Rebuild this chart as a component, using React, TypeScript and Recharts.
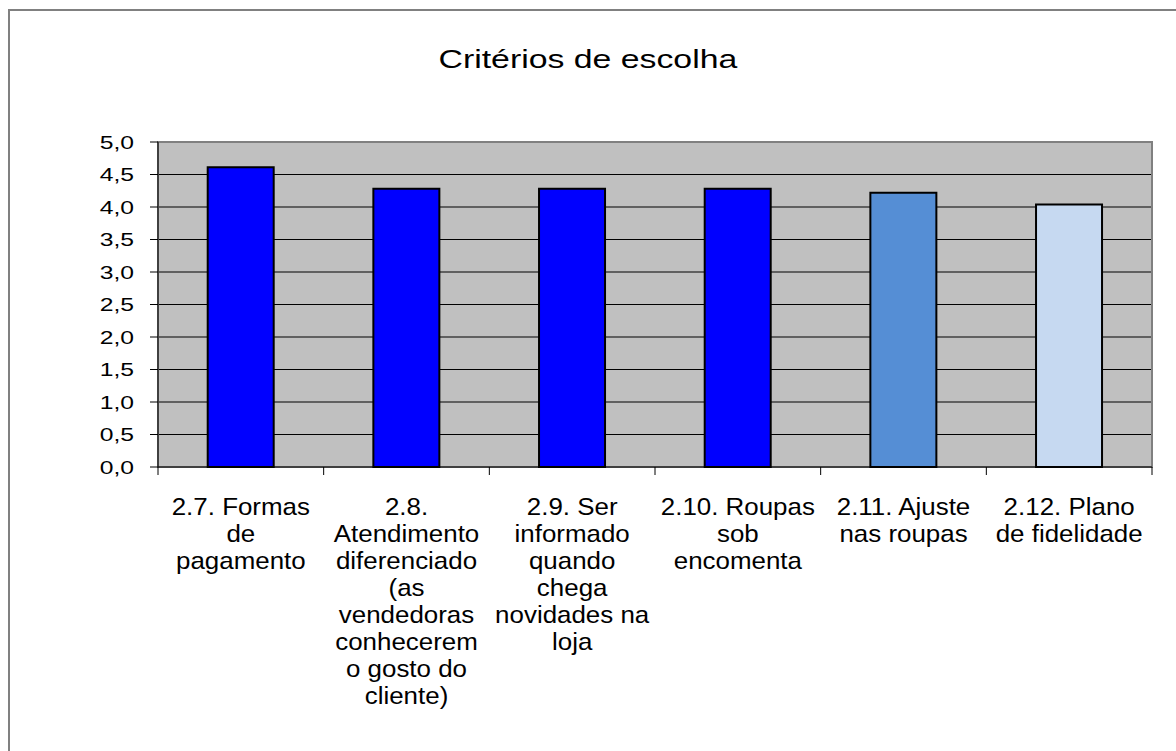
import { BarChart, Bar, XAxis, YAxis, CartesianGrid, Cell, ReferenceArea } from 'recharts';

const categories = [
  '2.7. Formas de pagamento',
  '2.8. Atendimento diferenciado (as vendedoras conhecerem o gosto do cliente)',
  '2.9. Ser informado quando chega novidades na loja',
  '2.10. Roupas sob encomenta',
  '2.11. Ajuste nas roupas',
  '2.12. Plano de fidelidade',
];

const scores = [4.61, 4.28, 4.28, 4.28, 4.22, 4.04];

// how each category label is broken into lines under the axis
const labelLines = [
  ['2.7. Formas', 'de', 'pagamento'],
  ['2.8.', 'Atendimento', 'diferenciado', '(as', 'vendedoras', 'conhecerem', 'o gosto do', 'cliente)'],
  ['2.9. Ser', 'informado', 'quando', 'chega', 'novidades na', 'loja'],
  ['2.10. Roupas', 'sob', 'encomenta'],
  ['2.11. Ajuste', 'nas roupas'],
  ['2.12. Plano', 'de fidelidade'],
];

const yTicks = [0, 0.5, 1, 1.5, 2, 2.5, 3, 3.5, 4, 4.5, 5];

const data = categories.map((name, i) => ({ name, score: scores[i], lines: labelLines[i] }));

const barColors = ['#0000FF', '#0000FF', '#0000FF', '#0000FF', '#558ED5', '#C6D9F1'];

const W = 1176;
const H = 751;
const PLOT_LEFT = 158;
const PLOT_RIGHT = 1152;
const PLOT_TOP = 142;
const PLOT_BOTTOM = 467;
const Y_AXIS_W = 60;
const X_AXIS_H = 280;
const FONT = '"Liberation Sans", Arial, sans-serif';

const halfBand = (PLOT_RIGHT - PLOT_LEFT) / categories.length / 2;

const YTick = (props: any) => {
  const { x, y, payload } = props;
  const label = Number(payload.value).toFixed(1).replace('.', ',');
  return (
    <g transform={`translate(${x},${y})`}>
      <text transform="scale(1.3,1)" textAnchor="end" dy="0.36em" fontSize={19} fontFamily={FONT} fill="#000">
        {label}
      </text>
    </g>
  );
};

const XTick = (props: any) => {
  const { x, y, payload, index } = props;
  const lines: string[] = labelLines[index] ?? [payload.value];
  const last = index === categories.length - 1;
  return (
    <g>
      <line x1={x - halfBand} x2={x - halfBand} y1={y - 8} y2={y} stroke="#000" />
      {last && <line x1={x + halfBand} x2={x + halfBand} y1={y - 8} y2={y} stroke="#000" />}
      <g transform={`translate(${x},${y + 40})`}>
        <text transform="scale(1.08,1)" textAnchor="middle" fontSize={24} fontFamily={FONT} fill="#000">
          {lines.map((ln, i) => (
            <tspan key={i} x={0} dy={i === 0 ? 0 : 27}>
              {ln}
            </tspan>
          ))}
        </text>
      </g>
    </g>
  );
};

export default function App() {
  return (
    <div style={{ position: 'absolute', left: 0, top: 0, width: W, height: H, background: '#fff', overflow: 'hidden' }}>
      <div
        style={{
          position: 'absolute',
          left: 8,
          top: 9,
          width: W - 8,
          height: H - 9,
          borderTop: '2px solid #808080',
          borderLeft: '2px solid #808080',
          boxSizing: 'border-box',
        }}
      />
      <div
        style={{
          position: 'absolute',
          left: 0,
          top: 44,
          width: 1176,
          textAlign: 'center',
          fontFamily: FONT,
          fontSize: 26,
          lineHeight: '30px',
          color: '#000',
          paddingLeft: 0,
        }}
      >
        <span style={{ display: 'inline-block', transform: 'scaleX(1.3)', marginLeft: 0 }}>Critérios de escolha</span>
      </div>
      <div style={{ position: 'absolute', left: 0, top: 0 }}>
        <BarChart
          width={W}
          height={H}
          data={data}
          margin={{
            top: PLOT_TOP,
            left: PLOT_LEFT - Y_AXIS_W,
            right: W - PLOT_RIGHT,
            bottom: H - PLOT_BOTTOM - X_AXIS_H,
          }}
          barCategoryGap="30%"
        >
          <CartesianGrid vertical={false} stroke="#000" fill="#C0C0C0" fillOpacity={1} />
          <ReferenceArea y1={0} y2={5} fill="none" stroke="#808080" strokeWidth={2} />
          <XAxis
            dataKey="name"
            interval={0}
            height={X_AXIS_H}
            tickLine={false}
            tickSize={8}
            tickMargin={0}
            axisLine={{ stroke: '#000' }}
            tick={<XTick />}
          />
          <YAxis
            width={Y_AXIS_W}
            domain={[0, 5]}
            ticks={yTicks}
            interval={0}
            tickSize={8}
            tickMargin={16}
            stroke="#000"
            tick={<YTick />}
          />
          <Bar dataKey="score" stroke="#000" strokeWidth={2} isAnimationActive={false}>
            {data.map((d, i) => (
              <Cell key={d.name} fill={barColors[i]} />
            ))}
          </Bar>
        </BarChart>
      </div>
    </div>
  );
}
